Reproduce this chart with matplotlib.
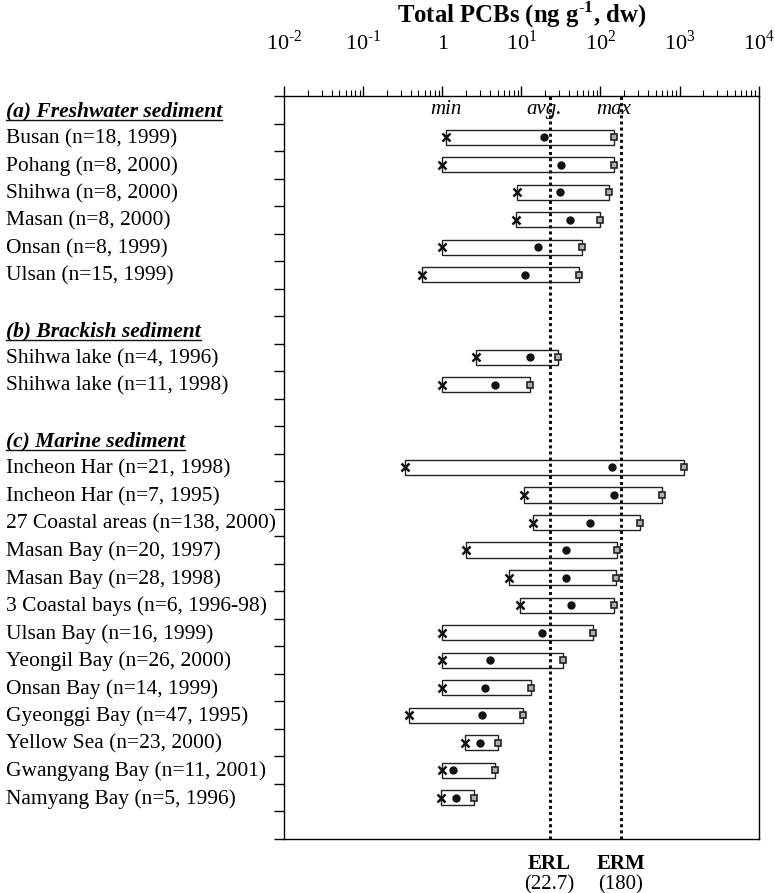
import matplotlib
matplotlib.use('Agg')
import matplotlib.pyplot as plt
import matplotlib.transforms as mtransforms
from matplotlib.lines import Line2D
from matplotlib.ticker import LogLocator, NullFormatter

plt.rcParams['font.family'] = ['Liberation Serif', 'DejaVu Serif']
plt.rcParams['mathtext.fontset'] = 'custom'
plt.rcParams['mathtext.rm'] = 'Liberation Serif'
plt.rcParams['mathtext.bf'] = 'Liberation Serif:bold'

# group headers and the row they sit on
groups = ['(a) Freshwater sediment', '(b) Brackish sediment', '(c) Marine sediment']
group_rows = [-1, 7, 11]

sites = ['Busan (n=18, 1999)', 'Pohang (n=8, 2000)', 'Shihwa (n=8, 2000)',
         'Masan (n=8, 2000)', 'Onsan (n=8, 1999)', 'Ulsan (n=15, 1999)',
         'Shihwa lake (n=4, 1996)', 'Shihwa lake (n=11, 1998)',
         'Incheon Har (n=21, 1998)', 'Incheon Har (n=7, 1995)',
         '27 Coastal areas (n=138, 2000)', 'Masan Bay (n=20, 1997)',
         'Masan Bay (n=28, 1998)', '3 Coastal bays (n=6, 1996-98)',
         'Ulsan Bay (n=16, 1999)', 'Yeongil Bay (n=26, 2000)',
         'Onsan Bay (n=14, 1999)', 'Gyeonggi Bay (n=47, 1995)',
         'Yellow Sea (n=23, 2000)', 'Gwangyang Bay (n=11, 2001)',
         'Namyang Bay (n=5, 1996)']
site_rows = [0, 1, 2, 3, 4, 5, 8, 9, 12, 13, 14, 15, 16, 17, 18, 19, 20, 21, 22, 23, 24]

pcb_min = [1.1, 1.0, 8.8, 8.5, 1.0, 0.55, 2.7, 1.0, 0.34, 10.7, 14, 2.0, 7.0,
           9.7, 1.0, 1.0, 1.0, 0.38, 1.93, 1.0, 0.96]
pcb_avg = [19.4, 32, 30.8, 40.8, 16, 11.1, 12.8, 4.6, 141, 148, 74.5, 37, 37,
           42.8, 18.4, 4.0, 3.5, 3.16, 3.0, 1.37, 1.5]
pcb_max = [148, 148, 128, 98, 58, 53.6, 29.4, 12.8, 1145, 598, 313, 163, 156,
           148, 80.6, 33.7, 13.4, 10.6, 5.0, 4.6, 2.5]

tick_vals = [1e-2, 1e-1, 1, 1e1, 1e2, 1e3, 1e4]
tick_text = [r'10$^{\text{-}2}$', r'10$^{\text{-}1}$', '1', r'10$^{1}$',
             r'10$^{2}$', r'10$^{3}$', r'10$^{4}$']

erl = 22.7
erm = 180

fig = plt.figure(figsize=(7.75, 8.93), dpi=100)
ax = fig.add_axes([0.3665, 0.0605, 0.6125, 0.832])

widths = [hi - lo for lo, hi in zip(pcb_min, pcb_max)]
ax.barh(site_rows, widths, left=pcb_min, height=0.55, color='white',
        edgecolor='#222222', linewidth=1.0, zorder=2)
ax.plot(pcb_min, site_rows, 'x', color='#111111', ms=6, mew=1.8, zorder=4)
ax.plot(pcb_avg, site_rows, 'o', color='#111111', ms=5, zorder=4)
ax.plot(pcb_max, site_rows, 's', mfc='#b0b0b0', mec='#222222', ms=5, mew=1.2, zorder=4)

for v in (erl, erm):
    ax.axvline(v, color='#111111', ls=(0, (1, 1)), lw=2.2, zorder=3)

ax.set_xscale('log')
ax.set_xlim(1e-2, 1e4)
ax.set_ylim(25.5, -1.5)

ax.xaxis.tick_top()
ax.set_xticks(tick_vals)
ax.set_xticklabels(tick_text, fontsize=16)
ax.xaxis.set_minor_locator(LogLocator(base=10, subs=range(2, 10)))
ax.xaxis.set_minor_formatter(NullFormatter())
ax.tick_params(axis='x', which='major', direction='out', length=7, width=1, pad=23)
ax.tick_params(axis='x', which='minor', direction='out', length=4, width=0.8)

ax.set_yticks([k - 0.5 for k in range(-1, 27)])
ax.set_yticklabels([])
ax.tick_params(axis='y', direction='out', length=7, width=1)
ax.yaxis.set_ticks_position('left')
for s in ax.spines.values():
    s.set_linewidth(1.0)

fig.text(0.673, 0.983, r'Total PCBs (ng g$^{\text{-}\mathbf{1}}$, dw)', fontsize=17.8,
         fontweight='bold', ha='center', va='center')

# min / avg. / max key above the first bar
for v, t in zip([pcb_min[0], pcb_avg[0], pcb_max[0]], ['min', 'avg.', 'max']):
    ax.text(v, -1.0, t, fontsize=15, style='italic', ha='center', va='center')

# row labels to the left of the axes
lab = mtransforms.blended_transform_factory(fig.transFigure, ax.transData)
for name, r in zip(sites, site_rows):
    ax.text(0.008, r + 0.05, name, transform=lab, fontsize=15.5, ha='left',
            va='center', clip_on=False)
heads = []
for name, r in zip(groups, group_rows):
    heads.append(ax.text(0.008, r + 0.05, name, transform=lab, fontsize=15.5,
                         fontweight='bold', style='italic', ha='left',
                         va='center', clip_on=False))

# ERL / ERM captions under the axes
cap = mtransforms.blended_transform_factory(ax.transData, fig.transFigure)
for v, name in zip([erl, erm], ['ERL', 'ERM']):
    ax.text(v, 0.032, name, transform=cap, fontsize=15, fontweight='bold',
            ha='center', va='center')
    ax.text(v, 0.009, '(%g)' % v, transform=cap, fontsize=15,
            ha='center', va='center')

# underline the group headers
fig.canvas.draw()
rend = fig.canvas.get_renderer()
inv = fig.transFigure.inverted()
for t in heads:
    bb = t.get_window_extent(rend).transformed(inv)
    y = bb.y0 + 1.5 / 893
    fig.add_artist(Line2D([bb.x0, bb.x1], [y, y], color='#111111', lw=1.0))

fig.savefig('out.png', dpi=100)
